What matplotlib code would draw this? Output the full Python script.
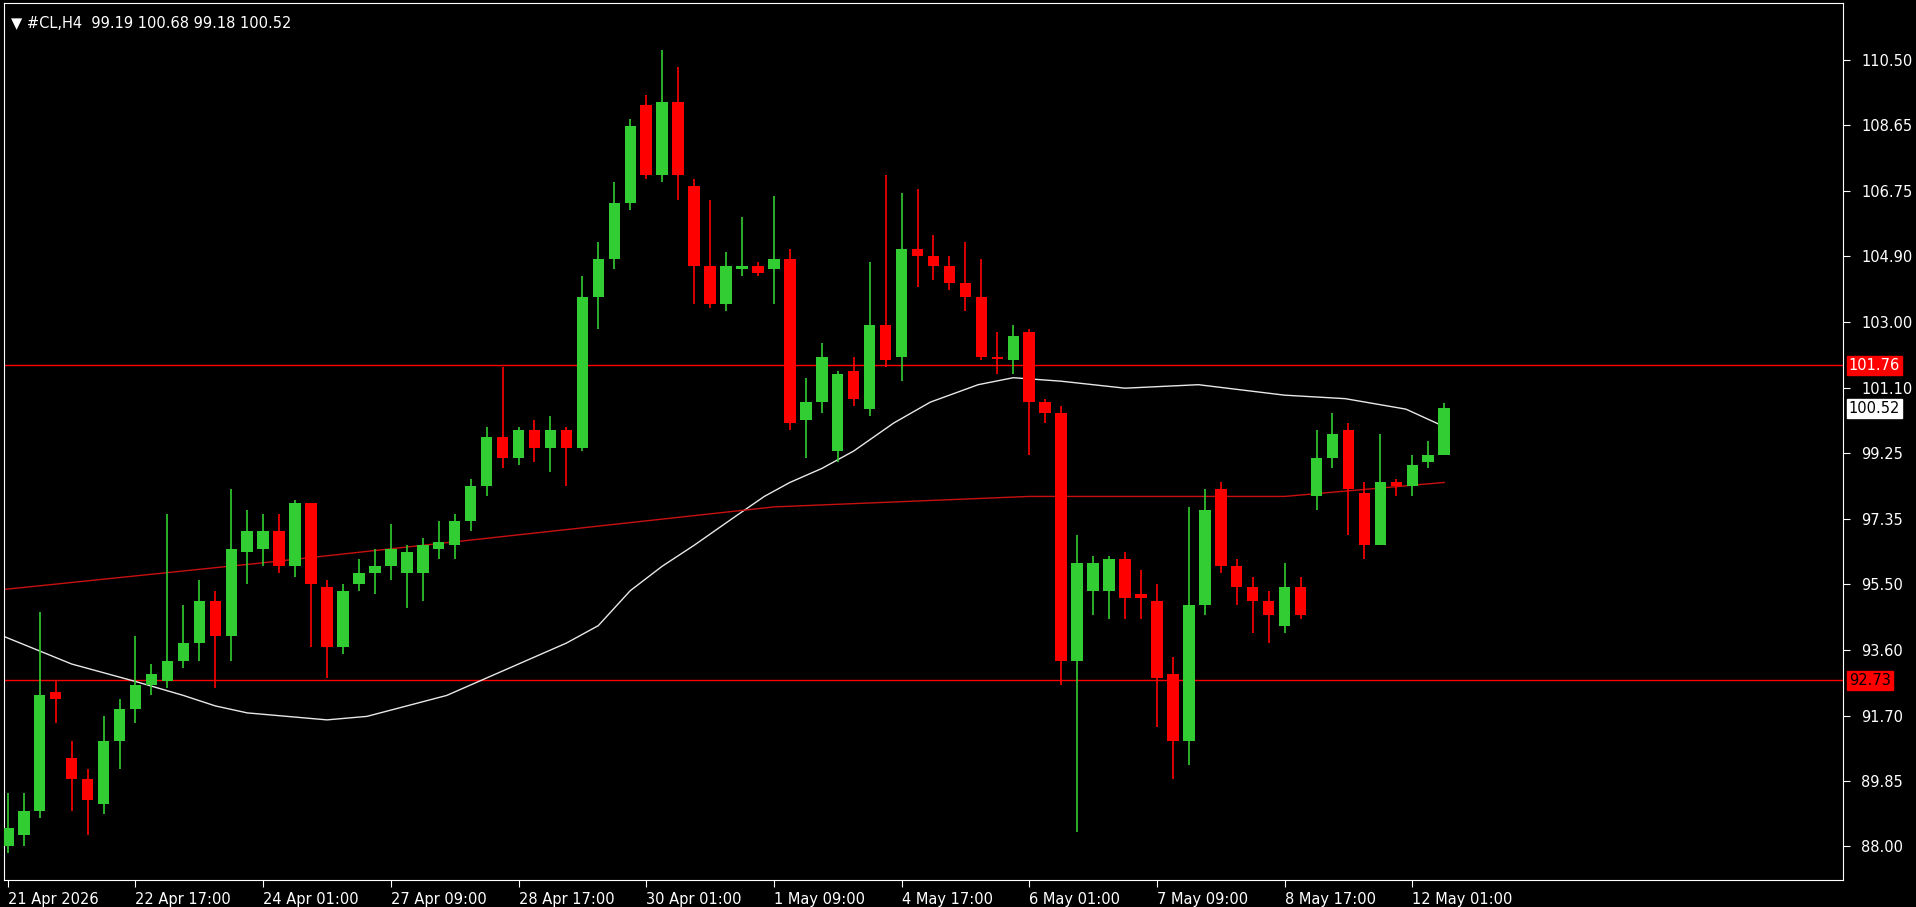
import matplotlib
matplotlib.use("Agg")
import matplotlib.pyplot as plt

# === OHLC data (H4 candles) ===
opens = [88.0, 88.3, 89.0, 92.4, 90.5, 89.9, 89.2, 91.0, 91.9, 92.6, 92.7, 93.3, 93.8, 95.0, 94.0, 96.4, 96.5, 97.0, 96.0, 97.8,
         95.4, 93.7, 95.5, 95.8, 96.0, 95.8, 95.8, 96.5, 96.6, 97.3, 98.3, 99.7, 99.1, 99.9, 99.4, 99.9, 99.4, 103.7, 104.8, 106.4,
         109.2, 107.2, 109.3, 106.9, 104.6, 103.5, 104.5, 104.6, 104.5, 104.8, 100.2, 100.7, 99.3, 101.6, 100.5, 102.9, 102.0, 105.1, 104.9, 104.6,
         104.1, 103.7, 102.0, 101.9, 102.7, 100.7, 100.4, 93.3, 95.3, 95.3, 96.2, 95.2, 95.0, 92.9, 91.0, 94.9, 98.2, 96.0, 95.4, 95.0,
         94.3, 95.4, 98.0, 99.1, 99.9, 98.1, 96.6, 98.4, 98.3, 99.0, 99.19]
highs = [89.5, 89.5, 94.7, 92.7, 91.0, 90.2, 91.7, 92.2, 94.0, 93.2, 97.5, 94.9, 95.6, 95.3, 98.2, 97.6, 97.5, 97.5, 97.9, 97.8,
         95.6, 95.5, 96.2, 96.5, 97.2, 96.6, 96.8, 97.3, 97.5, 98.5, 100.0, 101.7, 100.0, 100.2, 100.3, 100.0, 104.3, 105.3, 107.0, 108.8,
         109.5, 110.8, 110.3, 107.1, 106.5, 105.0, 106.0, 104.7, 106.6, 105.1, 101.4, 102.4, 101.6, 102.0, 104.7, 107.2, 106.7, 106.8, 105.5, 104.9,
         105.3, 104.8, 102.7, 102.9, 102.8, 100.8, 100.6, 96.9, 96.3, 96.3, 96.4, 95.9, 95.5, 93.4, 97.7, 98.2, 98.4, 96.2, 95.7, 95.3,
         96.1, 95.7, 99.9, 100.4, 100.1, 98.4, 99.8, 98.5, 99.2, 99.6, 100.68]
lows = [87.8, 88.0, 88.8, 91.5, 89.0, 88.3, 88.9, 90.2, 91.5, 92.3, 92.5, 93.1, 93.3, 92.5, 93.3, 95.5, 96.0, 95.8, 95.7, 93.7,
        92.8, 93.5, 95.3, 95.2, 95.6, 94.8, 95.0, 96.2, 96.2, 97.0, 98.0, 98.8, 98.9, 99.0, 98.7, 98.3, 99.3, 102.8, 104.5, 106.2,
        107.1, 107.0, 106.5, 103.5, 103.4, 103.3, 104.3, 104.3, 103.5, 99.9, 99.1, 100.4, 99.0, 100.6, 100.3, 101.7, 101.3, 104.0, 104.2, 103.9,
        103.3, 101.9, 101.5, 101.5, 99.2, 100.1, 92.6, 88.4, 94.6, 94.5, 94.5, 94.5, 91.4, 89.9, 90.3, 94.6, 95.8, 94.9, 94.1, 93.8,
        94.1, 94.5, 97.6, 98.8, 96.9, 96.2, 96.6, 98.0, 98.0, 98.8, 99.18]
closes = [88.5, 89.0, 92.3, 92.2, 89.9, 89.3, 91.0, 91.9, 92.6, 92.9, 93.3, 93.8, 95.0, 94.0, 96.5, 97.0, 97.0, 96.0, 97.8, 95.5,
          93.7, 95.3, 95.8, 96.0, 96.5, 96.4, 96.6, 96.7, 97.3, 98.3, 99.7, 99.1, 99.9, 99.4, 99.9, 99.4, 103.7, 104.8, 106.4, 108.6,
          107.2, 109.3, 107.2, 104.6, 103.5, 104.6, 104.6, 104.4, 104.8, 100.1, 100.7, 102.0, 101.5, 100.8, 102.9, 101.9, 105.1, 104.9, 104.6, 104.1,
          103.7, 102.0, 101.95, 102.6, 100.7, 100.4, 93.3, 96.1, 96.1, 96.2, 95.1, 95.1, 92.8, 91.0, 94.9, 97.6, 96.0, 95.4, 95.0, 94.6,
          95.4, 94.6, 99.1, 99.8, 98.2, 96.6, 98.4, 98.3, 98.9, 99.2, 100.52]

# moving averages (candle index, value)
ma_fast_idx = [-0.3, 4, 8, 11, 13, 15, 17.5, 20, 22.5, 25, 27.5, 30, 33, 35, 37, 39, 41, 43, 45.5, 47.4, 49, 51, 53,
               55.5, 57.8, 60.8, 63, 66, 70, 74.6, 80, 83.8, 87.6, 90]
ma_fast = [94.0, 93.2, 92.7, 92.3, 92.0, 91.8, 91.7, 91.6, 91.7, 92.0, 92.3, 92.8, 93.4, 93.8, 94.3, 95.3, 96.0, 96.6, 97.4, 98.0,
           98.4, 98.8, 99.3, 100.1, 100.7, 101.2, 101.4, 101.3, 101.1, 101.2, 100.9, 100.8, 100.5, 100.0]
ma_slow_idx = [-1, 16, 32, 48, 64, 80, 90]
ma_slow = [95.3, 96.1, 96.9, 97.7, 98.0, 98.0, 98.4]

levels = [101.76, 92.73]
yticks = [88.00, 89.85, 91.70, 93.60, 95.50, 97.35, 99.25, 101.10, 103.00, 104.90, 106.75, 108.65, 110.50]
xtick_labels = ["21 Apr 2026", "22 Apr 17:00", "24 Apr 01:00", "27 Apr 09:00", "28 Apr 17:00", "30 Apr 01:00",
                "1 May 09:00", "4 May 17:00", "6 May 01:00", "7 May 09:00", "8 May 17:00", "12 May 01:00"]

GREEN = "#32cd32"
RED = "#ff0000"

fig = plt.figure(figsize=(19.16, 9.07), dpi=100, facecolor="black")
ax = fig.add_axes([0.002, 0.03, 0.960, 0.967], facecolor="black")

for i, (o, h, l, c) in enumerate(zip(opens, highs, lows, closes)):
    col = GREEN if c >= o else RED
    ax.vlines(i, l, h, color=col, lw=1.2, zorder=3)
    bot, top = min(o, c), max(o, c)
    ax.bar(i, max(top - bot, 0.04), bottom=bot, width=0.72, color=col, lw=0, zorder=4)

ax.plot(ma_fast_idx, ma_fast, color="#e8e8e8", lw=1, zorder=2)
ax.plot(ma_slow_idx, ma_slow, color="#c81010", lw=1, zorder=2)
for lv in levels:
    ax.axhline(lv, color=RED, lw=1, zorder=1)

ax.set_xlim(-0.25, 115)
ax.set_ylim(87.02, 112.14)

for s in ax.spines.values():
    s.set_color("white")
ax.yaxis.tick_right()
ax.set_yticks(yticks)
ax.set_yticklabels([f"{v:.2f}" for v in yticks], color="white", fontsize=10.5)
ax.tick_params(axis="y", colors="white", length=5, pad=8)
ax.set_xticks([8 * k for k in range(len(xtick_labels))])
ax.set_xticklabels(xtick_labels, color="white", fontsize=10.5, ha="left")
ax.tick_params(axis="x", colors="white", length=5, pad=4)

# price tags on the right axis
ax.text(1.003, (101.76 - 87.02) / (112.14 - 87.02), "101.76", transform=ax.transAxes, va="center", ha="left",
        color="white", fontsize=10.5, bbox=dict(facecolor=RED, edgecolor=RED, pad=1.5))
ax.text(1.003, (92.73 - 87.02) / (112.14 - 87.02), "92.73", transform=ax.transAxes, va="center", ha="left",
        color="black", fontsize=10.5, bbox=dict(facecolor=RED, edgecolor=RED, pad=1.5))
ax.text(1.003, (100.52 - 87.02) / (112.14 - 87.02), "100.52", transform=ax.transAxes, va="center", ha="left",
        color="black", fontsize=10.5, bbox=dict(facecolor="white", edgecolor="white", pad=1.5))

ax.text(0.004, 0.985, "\u25bc #CL,H4  99.19 100.68 99.18 100.52", transform=ax.transAxes, va="top", ha="left",
        color="white", fontsize=10.5)

fig.savefig("out.png", dpi=100, facecolor="black")
